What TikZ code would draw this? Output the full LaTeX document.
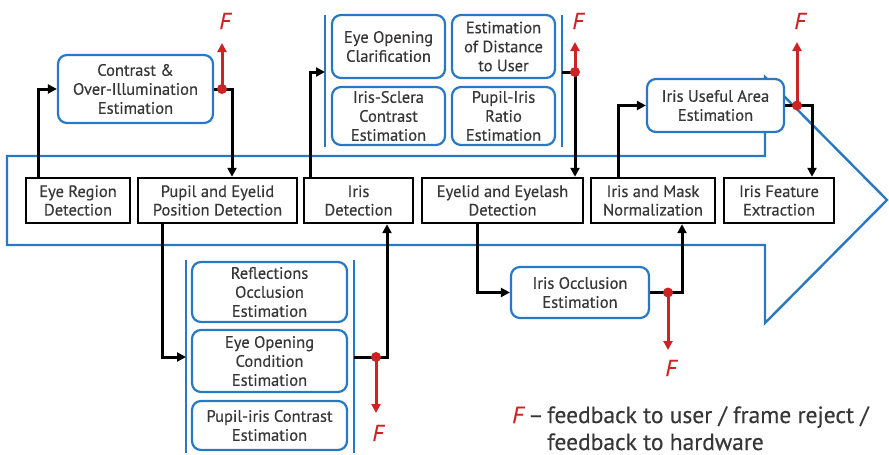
\documentclass[tikz,border=0pt]{standalone}
\usepackage{fontspec}
\setmainfont{PT Sans}[FakeBold=0.35]
\usetikzlibrary{arrows.meta}
\definecolor{flowblue}{RGB}{40,120,195}
\definecolor{fbred}{RGB}{205,35,35}
\definecolor{txt}{RGB}{55,55,55}
\tikzset{
  stage/.style={draw=black, line width=2.4pt, fill=white, align=center, text=txt,
    inner sep=0pt, font=\fontsize{16.5}{18.5}\selectfont},
  est/.style={draw=flowblue, line width=2.2pt, rounded corners=9pt, fill=white,
    align=center, text=txt, inner sep=0pt, font=\fontsize{16.5}{19}\selectfont},
  grp/.style={draw=flowblue, line width=2.4pt},
  flow/.style={draw=black, line width=3pt, -{Triangle[length=9pt,width=9pt]}},
  fb/.style={draw=fbred, line width=3pt, -{Triangle[length=9pt,width=9pt]}},
  fdot/.style={circle, fill=fbred, inner sep=0pt, minimum size=10pt},
  flabel/.style={text=fbred, font=\fontsize{23}{23}\selectfont\itshape},
  legend/.style={text=txt, anchor=base west, inner sep=0pt, font=\fontsize{23.5}{26}\selectfont}
}
\begin{document}
\begin{tikzpicture}[x=1pt, y=-1pt]
\useasboundingbox (0,0) rectangle (889,455);

% large process arrow in the background
\draw[flowblue, line width=2.4pt, line join=miter]
  (7,156) -- (765,156) -- (765,77) -- (887,200) -- (765,323) -- (765,245) -- (7,245) -- cycle;

% main processing stages
\node[stage, minimum width=104pt, minimum height=45pt] (erd) at (78,200.5) {Eye Region\\Detection};
\node[stage, minimum width=159pt, minimum height=45pt] (ped) at (217.5,200.5) {Pupil and Eyelid\\Position Detection};
\node[stage, minimum width=109pt, minimum height=45pt] (idt) at (358.5,200.5) {Iris\\Detection};
\node[stage, minimum width=161pt, minimum height=45pt] (eld) at (502.5,200.5) {Eyelid and Eyelash\\Detection};
\node[stage, minimum width=124pt, minimum height=45pt] (inm) at (653,200.5) {Iris and Mask\\Normalization};
\node[stage, minimum width=110pt, minimum height=45pt] (ife) at (779,200.5) {Iris Feature\\Extraction};

% quality estimators
\node[est, minimum width=155pt, minimum height=68pt] (coe) at (135.5,89) {Contrast \&\\Over-Illumination\\Estimation};

\node[est, minimum width=113pt, minimum height=63pt] (eoc) at (388.5,46.5) {Eye Opening\\Clarification};
\node[est, minimum width=103pt, minimum height=63pt] (edu) at (503.5,46.5) {Estimation\\of Distance\\to User};
\node[est, minimum width=113pt, minimum height=58pt] (isc) at (388.5,116) {Iris-Sclera\\Contrast\\Estimation};
\node[est, minimum width=103pt, minimum height=58pt] (pir) at (503.5,116) {Pupil-Iris\\Ratio\\Estimation};

\node[est, minimum width=137pt, minimum height=53pt] (iua) at (715.5,105.5) {Iris Useful Area\\Estimation};

\node[est, minimum width=155pt, minimum height=60pt] (roe) at (269.5,292) {Reflections\\Occlusion\\Estimation};
\node[est, minimum width=155pt, minimum height=62pt] (eoce) at (269.5,361) {Eye Opening\\Condition\\Estimation};
\node[est, minimum width=155pt, minimum height=49pt] (pice) at (269.5,425.5) {Pupil-iris Contrast\\Estimation};

\node[est, minimum width=138pt, minimum height=51pt] (ioe) at (580,292.5) {Iris Occlusion\\Estimation};

% group brackets
\coordinate (g2lt) at (325,15);  \coordinate (g2lb) at (325,147);
\coordinate (g2rt) at (562,15);  \coordinate (g2rb) at (562,147);
\draw[grp] (g2lt) -- (g2lb);
\draw[grp] (g2rt) -- (g2rb);
\coordinate (g1lt) at (186,260); \coordinate (g1lb) at (186,453);
\coordinate (g1rt) at (354,260); \coordinate (g1rb) at (354,453);
\draw[grp] (g1lt) -- (g1lb);
\draw[grp] (g1rt) -- (g1rb);

% connectors
\coordinate (g2in) at (325,72);
\coordinate (g2out) at (562,72);
\coordinate (g1in) at (186,357);
\coordinate (g1out) at (354,357);

\draw[flow] ([xshift=-40pt]erd.north) |- (coe.west);
\draw[flow] (coe.east) -| ([xshift=14.5pt]ped.north);
\draw[flow] ([xshift=-48.5pt]idt.north) |- (g2in);
\draw[flow] (g2out) -| ([xshift=72.5pt]eld.north);
\draw[flow] ([xshift=-35pt]inm.north) |- (iua.west);
\draw[flow] (iua.east) -| ([xshift=33pt]ife.north);
\draw[flow] ([xshift=-55.5pt]ped.south) |- (g1in);
\draw[flow] (g1out) -| ([xshift=28.5pt]idt.south);
\draw[flow] ([xshift=-25.5pt]eld.south) |- (ioe.west);
\draw[flow] (ioe.east) -| ([xshift=29pt]inm.south);

% feedback taps
\coordinate (d1) at (222,89);
\coordinate (d2) at (575,72);
\coordinate (d3) at (797,105.5);
\coordinate (d4) at (376,357);
\coordinate (d5) at (668,292.5);

\node[flabel] (f1) at (225,21) {F};
\node[flabel] (f2) at (578,21) {F};
\node[flabel] (f3) at (800,21) {F};
\node[flabel] (f4) at (378,433) {F};
\node[flabel] (f5) at (671,368) {F};

\coordinate (t1) at (222,43);
\coordinate (t2) at (575,42);
\coordinate (t3) at (797,42);
\coordinate (t4) at (376,413);
\coordinate (t5) at (668,350);
\draw[fb] (d1) -- (t1);
\draw[fb] (d2) -- (t2);
\draw[fb] (d3) -- (t3);
\draw[fb] (d4) -- (t4);
\draw[fb] (d5) -- (t5);
\node[fdot] (p1) at (d1) {};
\node[fdot] (p2) at (d2) {};
\node[fdot] (p3) at (d3) {};
\node[fdot] (p4) at (d4) {};
\node[fdot] (p5) at (d5) {};

% legend
\node[legend] (legf) at (512,423) {{\color{fbred}\itshape F}};
\node[legend] (legd) at (528,423) {–};
\node[legend] (leg1) at (547,423) {feedback to user / frame reject /};
\node[legend] (leg2) at (547,450) {feedback to hardware};
\end{tikzpicture}
\end{document}
